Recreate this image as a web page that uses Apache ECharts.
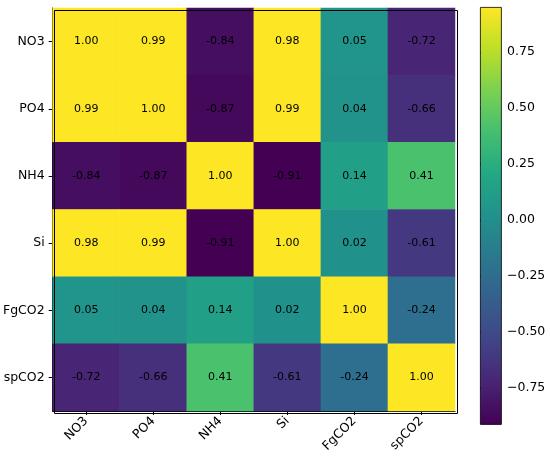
<!DOCTYPE html>
<html><head><meta charset="utf-8">
<script src="https://cdn.jsdelivr.net/npm/echarts@6/dist/echarts.min.js"></script>
<style>html,body{margin:0;padding:0;background:#fff}#c{width:550px;height:460px}</style>
</head><body><div id="c"></div>
<script>
const variables = ['NO3','PO4','NH4','Si','FgCO2','spCO2'];
const rowNO3   = [1.00, 0.99, -0.84, 0.98, 0.05, -0.72];
const rowPO4   = [0.99, 1.00, -0.87, 0.99, 0.04, -0.66];
const rowNH4   = [-0.84, -0.87, 1.00, -0.91, 0.14, 0.41];
const rowSi    = [0.98, 0.99, -0.91, 1.00, 0.02, -0.61];
const rowFgCO2 = [0.05, 0.04, 0.14, 0.02, 1.00, -0.24];
const rowSpCO2 = [-0.72, -0.66, 0.41, -0.61, -0.24, 1.00];
const colorbarTicks = [-0.75, -0.5, -0.25, 0, 0.25, 0.5, 0.75];
const colorMin = -0.911, colorMax = 0.951;

const rows = [rowNO3, rowPO4, rowNH4, rowSi, rowFgCO2, rowSpCO2];
const data = [];
rows.forEach((r, yi) => r.forEach((v, xi) => data.push([xi, yi, v])));

const viridis = ['#440154','#482475','#414487','#355f8d','#2a788e','#21918c','#22a884','#44bf70','#7ad151','#bddf26','#fde725'];
const font = 'DejaVu Sans';
const fmt = v => (v < 0 ? '\u2212' + Math.abs(v).toFixed(2) : v.toFixed(2));

const chart = echarts.init(document.getElementById('c'));
chart.setOption({
  animation: false,
  backgroundColor: '#fff',
  grid: [
    {left: 52, top: 8, width: 403, height: 403},
    {left: 480, top: 7, width: 21, height: 417}
  ],
  xAxis: [
    {type: 'category', data: variables, gridIndex: 0,
     axisLine: {show: true, lineStyle: {color: '#000', width: 1}},
     axisTick: {show: true, alignWithLabel: true, length: 4, lineStyle: {color: '#000'}},
     axisLabel: {rotate: 45, color: '#000', fontFamily: font, fontSize: 12.5, margin: 8},
     splitLine: {show: false}},
    {type: 'value', gridIndex: 1, show: false, min: 0, max: 1}
  ],
  yAxis: [
    {type: 'category', data: variables, inverse: true, gridIndex: 0,
     axisLine: {show: true, lineStyle: {color: '#000', width: 1}},
     axisTick: {show: true, alignWithLabel: true, length: 4, lineStyle: {color: '#000'}},
     axisLabel: {color: '#000', fontFamily: font, fontSize: 12.5, margin: 8},
     splitLine: {show: false}},
    {type: 'value', gridIndex: 1, position: 'right', min: colorMin, max: colorMax,
     axisLine: {show: false},
     axisTick: {show: true, length: 4, lineStyle: {color: '#000'}, customValues: colorbarTicks},
     axisLabel: {color: '#000', fontFamily: font, fontSize: 12.5, margin: 6, customValues: colorbarTicks, formatter: fmt},
     splitLine: {show: false}}
  ],
  visualMap: {
    type: 'continuous', min: colorMin, max: colorMax, show: false, seriesIndex: 0,
    inRange: {color: viridis}
  },
  graphic: [
    {type: 'rect', left: 480, top: 7, shape: {width: 21, height: 417},
     style: {fill: new echarts.graphic.LinearGradient(0, 1, 0, 0, viridis.map((c, i) => ({offset: i / (viridis.length - 1), color: c}))), stroke: '#000', lineWidth: 0.8},
     z: 50, silent: true},
    {type: 'rect', left: 52, top: 8, shape: {width: 403, height: 403}, style: {fill: 'none', stroke: '#000', lineWidth: 1}, z: 100, silent: true}
  ],
  series: [{
    type: 'heatmap', xAxisIndex: 0, yAxisIndex: 0, data: data,
    label: {show: true, color: '#000', fontFamily: font, fontSize: 11,
            formatter: p => p.value[2].toFixed(2)},
    itemStyle: {borderWidth: 0}
  }]
});
</script></body></html>
